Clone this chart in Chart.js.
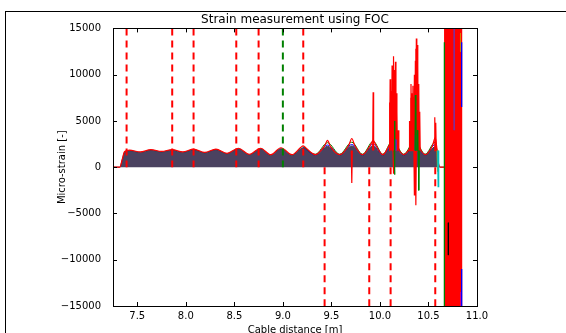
<!DOCTYPE html>
<html lang="en">
<head>
<meta charset="UTF-8">
<title>Strain measurement using FOC</title>
<script src="https://cdn.jsdelivr.net/npm/chart.js"></script>
<style>
  html, body { margin: 0; padding: 0; background: #fff; }
  #wrap { position: relative; width: 566px; height: 333px; overflow: hidden; }
  #frame { position: absolute; left: 5px; top: 11px; width: 700px; height: 400px; border: 1px solid #000; }
  #wrap canvas { position: absolute; left: 0; top: 0; }
</style>
</head>
<body>
<div id="wrap">
  <div id="frame"></div>
  <canvas id="myChart" width="566" height="333"></canvas>
</div>
<script>
// axis ticks
const xTicks = [7.5, 8.0, 8.5, 9.0, 9.5, 10.0, 10.5, 11.0];
const yTicks = [-15000, -10000, -5000, 0, 5000, 10000, 15000];

// dense strain profile (the dark filled mass of traces)
const profX = [7.25, 7.32, 7.345, 7.37, 7.42, 7.53, 7.64, 7.75, 7.86, 7.97, 8.08, 8.195, 8.31, 8.425, 8.54, 8.655, 8.77, 8.875, 8.98, 9.095, 9.21, 9.335, 9.46, 9.585, 9.71, 9.82, 9.93, 10.03, 10.13, 10.245, 10.36, 10.465, 10.57, 10.59, 10.605, 10.62, 10.665];
const profY = [0, 0, 800, 1650, 1800, 1600, 1850, 1650, 1850, 1600, 1900, 1550, 1900, 1450, 2000, 1350, 2000, 1300, 2000, 1300, 2100, 1300, 2250, 1300, 2300, 1300, 2300, 1300, 2350, 1300, 2300, 1300, 2200, 1500, 300, 0, 0];

// blue / green traces just above the profile on the later bumps
const laterX = [9.21, 9.335, 9.46, 9.585, 9.71, 9.82, 9.93, 10.03, 10.13, 10.245, 10.36, 10.465, 10.57, 10.59];
const blueY = [2150, 1350, 2400, 1350, 2450, 1350, 2500, 1350, 2550, 1350, 2600, 1350, 2450, 1600];
const greenY = [2200, 1400, 2650, 1400, 2700, 1400, 2800, 1400, 2900, 1400, 2900, 1400, 2700, 1700];

// red envelope trace
const redX = [7.25, 7.32, 7.345, 7.37, 7.42, 7.53, 7.64, 7.75, 7.86, 7.97, 8.08, 8.195, 8.31, 8.425, 8.54, 8.655, 8.77, 8.875, 8.98, 9.095, 9.18, 9.21, 9.24, 9.335, 9.43, 9.46, 9.49, 9.585, 9.68, 9.71, 9.74, 9.82, 9.90, 9.93, 9.96, 10.03, 10.10, 10.13, 10.16, 10.245, 10.33, 10.36, 10.39, 10.465, 10.54, 10.57, 10.59, 10.605, 10.62, 10.665];
const redY = [0, 0, 850, 1700, 1850, 1650, 1900, 1700, 1900, 1650, 1950, 1600, 1950, 1500, 2050, 1400, 2050, 1350, 2100, 1350, 2100, 2300, 2050, 1350, 2300, 2900, 2250, 1350, 2400, 3100, 2350, 1350, 2350, 2900, 2350, 1350, 2450, 3000, 2450, 1350, 2400, 3000, 2400, 1350, 2300, 3200, 1700, 300, 0, 0];

// spikes (position, tip value), drawn from the profile level
const redSpikeX = [9.71, 9.93,
    10.10, 10.105, 10.115, 10.125, 10.13, 10.14, 10.15, 10.16, 10.17, 10.175, 10.19, 10.14,
    10.305, 10.315, 10.32, 10.33, 10.34, 10.35, 10.355, 10.365, 10.37, 10.375, 10.38, 10.385, 10.39, 10.40, 10.41, 10.355, 10.37,
    10.565, 10.575];
const redSpikeTop = [-1700, 8100,
    7000, 9500, 8200, 11000, 9800, 12000, 10500, 11400, 8000, 6000, 4000, -700,
    5000, 7500, 9000, 8000, 8800, 7500, 10000, 11500, 12800, 13900, 12000, 13200, 11000, 9000, 6000, -3000, -4100,
    5400, 4800];
const greenSpikeX = [10.15, 10.15, 10.365, 10.385, 10.40];
const greenSpikeTop = [5000, -800, 7800, 4000, -2500];
const blueSpikeX = [10.16, 10.365];
const blueSpikeTop = [3000, 3500];
const cyanSpikeX = [10.60];
const cyanSpikeTop = [-2100];
const yellowSpikeX = [10.595];
const yellowSpikeTop = [-500];

// wild oscillation band near the cable end
const bandX = [10.668, 10.672, 10.676, 10.680, 10.684, 10.688, 10.692, 10.696, 10.700, 10.704, 10.708, 10.712, 10.716, 10.720, 10.724, 10.728, 10.732, 10.736, 10.740, 10.744, 10.748, 10.752, 10.756, 10.760, 10.764, 10.768, 10.772, 10.776, 10.780, 10.784, 10.788, 10.792, 10.796, 10.800, 10.804, 10.808, 10.812, 10.816, 10.820, 10.824, 10.828, 10.832, 10.836, 10.840];
const bandY = [16000, -16000, 15500, -16000, 16000, -15000, 16000, -16000, 14500, -16000, 16000, -16000, 16000, -15500, 16000, -16000, 15000, -16000, 16000, -16000, 16000, -14000, 16000, -16000, 15500, -16000, 16000, -16000, 16000, -15000, 16000, -16000, 14000, -16000, 16000, -16000, 16000, -15500, 16000, -16000, 15000, -16000, 16000, -16000];

// coloured traces inside the band: x, from, to
const bandGreenX = [10.664], bandGreenFrom = [13500], bandGreenTo = [-16000];
const bandBlackX = [10.705], bandBlackFrom = [-6000], bandBlackTo = [-9500];
const bandPurpleX = [10.765], bandPurpleFrom = [16000], bandPurpleTo = [4000];
const bandBlueX = [10.842, 10.842], bandBlueFrom = [13500, -11000], bandBlueTo = [6500, -16000];
const bandMagentaX = [10.835], bandMagentaFrom = [-13500], bandMagentaTo = [-16000];
const bandOrangeX = [10.83], bandOrangeFrom = [14500], bandOrangeTo = [12500];

// vertical dashed markers
const dashUpRedX = [7.39, 7.86, 8.08, 8.52, 8.75, 9.21];
const dashUpGreenX = [9.0];
const dashLowRedX = [9.43, 9.89, 10.11, 10.57];

const pts = (xs, ys) => xs.map((x, i) => ({x: x, y: ys[i]}));
const segs = (xs, from, to) => xs.flatMap((x, i) => [{x: x, y: from[i]}, {x: x, y: to[i]}, {x: x, y: null}]);
// narrow peak: up from the profile level to the tip and back
const spikes = (xs, tops) => xs.flatMap((x, i) => [
    {x: x - 0.005, y: 1800}, {x: x, y: tops[i]}, {x: x + 0.005, y: 1800}, {x: x, y: null}
]);

const lineDs = (data, color, width, order, extra) => Object.assign({
    data: data, borderColor: color, borderWidth: width, pointRadius: 0,
    fill: false, spanGaps: false, order: order
}, extra || {});

// inner tick marks and the axes box, matplotlib style
const axesFrame = {
    id: 'axesFrame',
    afterDraw(chart) {
        const {ctx, chartArea: a, scales: {x, y}} = chart;
        ctx.save();
        ctx.strokeStyle = '#000';
        ctx.lineWidth = 1;
        ctx.beginPath();
        x.ticks.forEach(t => {
            const px = Math.round(x.getPixelForValue(t.value)) + 0.5;
            ctx.moveTo(px, a.bottom); ctx.lineTo(px, a.bottom - 4);
            ctx.moveTo(px, a.top); ctx.lineTo(px, a.top + 4);
        });
        y.ticks.forEach(t => {
            const py = Math.round(y.getPixelForValue(t.value)) + 0.5;
            ctx.moveTo(a.left, py); ctx.lineTo(a.left + 4, py);
            ctx.moveTo(a.right, py); ctx.lineTo(a.right - 4, py);
        });
        ctx.stroke();
        ctx.strokeRect(Math.round(a.left) + 0.5, Math.round(a.top) + 0.5,
            Math.round(a.right - a.left), Math.round(a.bottom - a.top));
        ctx.restore();
    }
};

Chart.defaults.font.family = "'DejaVu Sans', sans-serif";
Chart.defaults.color = '#000';

const ctx = document.getElementById('myChart').getContext('2d');
new Chart(ctx, {
    type: 'line',
    data: {
        datasets: [
            lineDs(pts(profX, profY), '#3a3448', 1, 9, {fill: 'origin', backgroundColor: '#4b4260', cubicInterpolationMode: 'monotone'}),
            lineDs(pts(laterX, blueY), '#0000ff', 1, 8, {cubicInterpolationMode: 'monotone'}),
            lineDs(pts(laterX, greenY), '#008000', 1, 7, {cubicInterpolationMode: 'monotone'}),
            lineDs(pts(redX, redY), '#ff0000', 1.2, 6, {cubicInterpolationMode: 'monotone'}),
            lineDs(spikes(redSpikeX, redSpikeTop), '#ff0000', 1.2, 5),
            lineDs(spikes(greenSpikeX, greenSpikeTop), '#008000', 1, 4),
            lineDs(spikes(blueSpikeX, blueSpikeTop), '#5a2ad0', 1, 4),
            lineDs(spikes(cyanSpikeX, cyanSpikeTop), '#00bfbf', 1.3, 4),
            lineDs(spikes(yellowSpikeX, yellowSpikeTop), '#bfbf00', 1.3, 4),
            lineDs(pts(bandX, bandY), '#ff0000', 1.5, 3),
            lineDs(segs(bandGreenX, bandGreenFrom, bandGreenTo), '#008000', 1.3, 2),
            lineDs(segs(bandBlackX, bandBlackFrom, bandBlackTo), '#000000', 1, 2),
            lineDs(segs(bandPurpleX, bandPurpleFrom, bandPurpleTo), '#7f2f9f', 1, 2),
            lineDs(segs(bandBlueX, bandBlueFrom, bandBlueTo), '#0000ff', 1.3, 2),
            lineDs(segs(bandMagentaX, bandMagentaFrom, bandMagentaTo), '#bf00bf', 1.3, 2),
            lineDs(segs(bandOrangeX, bandOrangeFrom, bandOrangeTo), '#d08000', 1, 2),
            lineDs(segs(dashUpRedX, dashUpRedX.map(() => 15000), dashUpRedX.map(() => 0)), '#ff0000', 2, 0, {borderDash: [7, 5]}),
            lineDs(segs(dashUpGreenX, [15000], [0]), '#008000', 2, 0, {borderDash: [7, 5]}),
            lineDs(segs(dashLowRedX, dashLowRedX.map(() => 0), dashLowRedX.map(() => -15000)), '#ff0000', 2, 0, {borderDash: [7, 5]})
        ]
    },
    options: {
        responsive: false,
        animation: false,
        events: [],
        layout: { padding: { left: 0, right: 89, top: 0, bottom: 0 } },
        plugins: {
            legend: { display: false },
            tooltip: { enabled: false },
            title: {
                display: true,
                fullSize: false,
                text: 'Strain measurement using FOC',
                font: { size: 12, weight: 'normal' },
                padding: { top: 13, bottom: 1 }
            }
        },
        scales: {
            x: {
                type: 'linear',
                min: 7.25,
                max: 11.0,
                grid: { display: false },
                border: { display: false },
                afterBuildTicks: s => { s.ticks = xTicks.map(v => ({value: v})); },
                afterFit: s => { s.height = 27; },
                ticks: { font: { size: 10 }, padding: -4, maxRotation: 0, callback: v => v.toFixed(1) },
                title: { display: true, text: 'Cable distance [m]', font: { size: 10 }, padding: { top: 0, bottom: -3 } }
            },
            y: {
                type: 'linear',
                min: -15000,
                max: 15000,
                grid: { display: false },
                border: { display: false },
                afterBuildTicks: s => { s.ticks = yTicks.map(v => ({value: v})); },
                afterFit: s => { s.width = 113; },
                ticks: { font: { size: 10 }, padding: 4, callback: v => v < 0 ? '\u2212' + Math.abs(v) : String(v) },
                title: { display: true, text: 'Micro-strain [-]', font: { size: 10 }, padding: { top: 56, bottom: 0 } }
            }
        }
    },
    plugins: [axesFrame]
});
</script>
</body>
</html>
